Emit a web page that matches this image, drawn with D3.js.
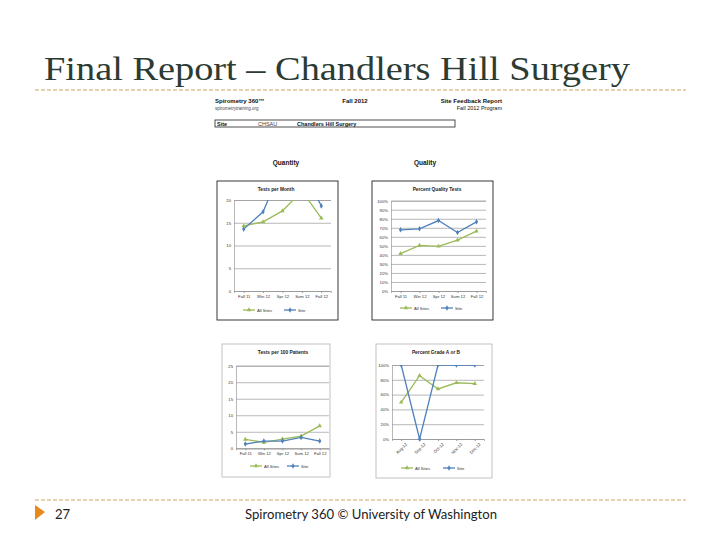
<!DOCTYPE html>
<html>
<head>
<meta charset="utf-8">
<script src="https://cdn.jsdelivr.net/npm/d3@7"></script>
<style>
  body { margin: 0; background: #fff; }
  svg { display: block; }
</style>
</head>
<body>
<script>
// chart values
var periods = ["Fall 11", "Win 12", "Spr 12", "Sum 12", "Fall 12"];
var months = ["Aug-12", "Sep-12", "Oct-12", "Nov-12", "Dec-12"];
var seriesNames = ["All Sites", "Site"];

var qtyTicks = [0, 5, 10, 15, 20];
var qtyAll = [14.3, 15.2, 17.6, 22.0, 16.0];
var qtySite = [13.6, 17.4, 27.5, 27.0, 18.7];

var qualTicks = [0, 10, 20, 30, 40, 50, 60, 70, 80, 90, 100];
var qualAll = [41.4, 50.5, 49.5, 56.4, 66.3];
var qualSite = [67.8, 68.9, 78.0, 64.8, 76.6];

var blTicks = [0, 5, 10, 15, 20, 25];
var blAll = [2.7, 1.8, 2.8, 3.7, 6.8];
var blSite = [1.3, 2.2, 2.2, 3.3, 2.2];

var brTicks = [0, 20, 40, 60, 80, 100];
var brAll = [49.6, 85.5, 67.6, 76.0, 74.7];
var brSite = [100, 0, 100, 100, 100];

var W = 720, H = 540;
var GREEN = "#9bbb59", BLUE = "#4f81bd";

var svg = d3.select("body").append("svg")
  .attr("width", W).attr("height", H);

// slide title
svg.append("text")
  .attr("x", 44).attr("y", 80)
  .attr("font-family", "Liberation Serif, serif")
  .attr("font-size", 33)
  .attr("fill", "#2c3b33")
  .attr("textLength", 586)
  .attr("lengthAdjust", "spacingAndGlyphs")
  .text("Final Report \u2013 Chandlers Hill Surgery");

// dashed rules
[90, 500].forEach(function(yy){
  svg.append("line")
    .attr("x1", 35).attr("x2", 686).attr("y1", yy).attr("y2", yy)
    .attr("stroke", "#c9a45c").attr("stroke-width", 1)
    .attr("stroke-dasharray", "4,2");
});

// footer
svg.append("path")
  .attr("d", "M35,505 L45,512 L35,520 Z")
  .attr("fill", "#e8891c");
svg.append("text")
  .attr("x", 55).attr("y", 519)
  .attr("font-family", "Lato, sans-serif").attr("font-size", 13)
  .attr("fill", "#222").text("27");
svg.append("text")
  .attr("x", 371).attr("y", 519).attr("text-anchor", "middle")
  .attr("font-family", "Lato, sans-serif").attr("font-size", 13)
  .attr("fill", "#222")
  .attr("textLength", 252).attr("lengthAdjust", "spacingAndGlyphs")
  .text("Spirometry 360 \u00a9 University of Washington");

// report header (the embedded page)
var rep = svg.append("g").attr("font-family", "Liberation Sans, Arial, sans-serif").attr("fill", "#111");
rep.append("text").attr("x", 215).attr("y", 103).attr("font-size", 6).attr("font-weight", "bold")
  .text("Spirometry 360\u2122");
rep.append("text").attr("x", 215).attr("y", 110).attr("font-size", 4.5).attr("fill", "#444")
  .text("spirometrytraining.org");
rep.append("text").attr("x", 355).attr("y", 103).attr("font-size", 6).attr("font-weight", "bold")
  .attr("text-anchor", "middle").text("Fall 2012");
rep.append("text").attr("x", 502).attr("y", 103).attr("font-size", 6).attr("font-weight", "bold")
  .attr("text-anchor", "end").text("Site Feedback Report");
rep.append("text").attr("x", 502).attr("y", 110).attr("font-size", 5.5)
  .attr("text-anchor", "end").text("Fall 2012 Program");
rep.append("rect").attr("x", 215).attr("y", 120).attr("width", 240).attr("height", 7)
  .attr("fill", "none").attr("stroke", "#222").attr("stroke-width", 0.8);
rep.append("text").attr("x", 217).attr("y", 125.5).attr("font-size", 5.5).attr("font-weight", "bold").text("Site");
rep.append("text").attr("x", 258).attr("y", 125.5).attr("font-size", 5.5).attr("fill", "#444").text("CHSAU");
rep.append("text").attr("x", 297).attr("y", 125.5).attr("font-size", 5.5).attr("font-weight", "bold")
  .text("Chandlers Hill Surgery");
rep.append("text").attr("x", 286).attr("y", 165).attr("font-size", 6.5).attr("font-weight", "bold")
  .attr("text-anchor", "middle").text("Quantity");
rep.append("text").attr("x", 425).attr("y", 165).attr("font-size", 6.5).attr("font-weight", "bold")
  .attr("text-anchor", "middle").text("Quality");

var clipN = 0;
function drawChart(cfg){
  var g = svg.append("g").attr("font-family", "Liberation Sans, Arial, sans-serif");
  g.append("rect")
    .attr("x", cfg.box.x).attr("y", cfg.box.y)
    .attr("width", cfg.box.w).attr("height", cfg.box.h)
    .attr("fill", "#fff").attr("stroke", cfg.border).attr("stroke-width", 0.9);

  g.append("text")
    .attr("x", cfg.titleX).attr("y", cfg.box.y + 10)
    .attr("text-anchor", "middle").attr("font-size", 4.8).attr("font-weight", "bold")
    .attr("fill", "#222").text(cfg.title);

  var x = d3.scalePoint().domain(cfg.cats).range([cfg.px0, cfg.px1]).padding(0.5);
  var y = d3.scaleLinear().domain([cfg.ticks[0], cfg.ticks[cfg.ticks.length - 1]]).range([cfg.py1, cfg.py0]);

  var yAx = g.append("g")
    .attr("transform", "translate(" + cfg.px0 + ",0)")
    .call(d3.axisLeft(y).tickValues(cfg.ticks).tickSize(-(cfg.px1 - cfg.px0)).tickPadding(3)
      .tickFormat(cfg.fmt));
  yAx.selectAll(".tick line").attr("stroke", "#9a9a9a").attr("stroke-width", 0.7);
  yAx.select(".domain").attr("stroke", "#9a9a9a").attr("stroke-width", 0.7);
  yAx.selectAll("text").attr("font-size", 4.2).attr("fill", "#333");

  var xAx = g.append("g")
    .attr("transform", "translate(0," + cfg.py1 + ")")
    .call(d3.axisBottom(x).tickSize(2).tickPadding(2));
  xAx.select(".domain").attr("stroke", "#9a9a9a").attr("stroke-width", 0.7);
  xAx.selectAll(".tick line").attr("stroke", "#9a9a9a");
  xAx.selectAll("text").attr("font-size", 4.2).attr("fill", "#333");
  if (cfg.rotate) {
    xAx.selectAll("text")
      .attr("text-anchor", "end").attr("dy", "0.3em")
      .attr("transform", "translate(2,2) rotate(-45)");
  }

  var id = "clip" + (clipN++);
  g.append("clipPath").attr("id", id).append("rect")
    .attr("x", cfg.px0 - 4).attr("y", cfg.py0)
    .attr("width", cfg.px1 - cfg.px0 + 8).attr("height", cfg.py1 - cfg.py0 + 4);
  var plot = g.append("g").attr("clip-path", "url(#" + id + ")");

  var line = d3.line().x(function(d, i){ return x(cfg.cats[i]); }).y(function(d){ return y(d); });
  var series = [
    { vals: cfg.all, color: GREEN, sym: d3.symbolTriangle },
    { vals: cfg.site, color: BLUE, sym: d3.symbolDiamond }
  ];
  series.forEach(function(s){
    plot.append("path").datum(s.vals)
      .attr("d", line).attr("fill", "none")
      .attr("stroke", s.color).attr("stroke-width", 1.3);
    plot.selectAll(null).data(s.vals).enter().append("path")
      .attr("d", d3.symbol().type(s.sym).size(9))
      .attr("transform", function(d, i){ return "translate(" + x(cfg.cats[i]) + "," + y(d) + ")"; })
      .attr("fill", s.color);
  });

  // legend
  var lg = g.append("g");
  series.forEach(function(s, i){
    var lx = cfg.legX[i];
    lg.append("line").attr("x1", lx).attr("x2", lx + 12)
      .attr("y1", cfg.legY).attr("y2", cfg.legY)
      .attr("stroke", s.color).attr("stroke-width", 1.3);
    lg.append("path").attr("d", d3.symbol().type(s.sym).size(9))
      .attr("transform", "translate(" + (lx + 6) + "," + cfg.legY + ")")
      .attr("fill", s.color);
    lg.append("text").attr("x", lx + 14).attr("y", cfg.legY + 1.5)
      .attr("font-size", 4.2).attr("fill", "#333").text(seriesNames[i]);
  });
}

var pct = function(d){ return d + "%"; };
var num = function(d){ return d; };

drawChart({
  box: {x: 217, y: 181, w: 121, h: 139}, border: "#222",
  title: "Tests per Month", titleX: 276,
  px0: 234, px1: 331, py0: 200, py1: 291,
  cats: periods, ticks: qtyTicks, fmt: num,
  all: qtyAll, site: qtySite,
  legX: [243, 284], legY: 310
});
drawChart({
  box: {x: 372, y: 181, w: 121, h: 139}, border: "#222",
  title: "Percent Quality Tests", titleX: 437,
  px0: 391, px1: 486, py0: 200.7, py1: 291,
  cats: periods, ticks: qualTicks, fmt: pct,
  all: qualAll, site: qualSite,
  legX: [400, 441], legY: 308
});
drawChart({
  box: {x: 222, y: 344, w: 108, h: 133}, border: "#bbbbbb",
  title: "Tests per 100 Patients", titleX: 283,
  px0: 236, px1: 329, py0: 365.7, py1: 448.3,
  cats: periods, ticks: blTicks, fmt: num,
  all: blAll, site: blSite,
  legX: [250, 287], legY: 466
});
drawChart({
  box: {x: 376, y: 344, w: 116, h: 134}, border: "#bbbbbb",
  title: "Percent Grade A or B", titleX: 436,
  px0: 392, px1: 484, py0: 365, py1: 439,
  cats: months, ticks: brTicks, fmt: pct, rotate: true,
  all: brAll, site: brSite,
  legX: [401, 443], legY: 468
});
</script>
</body>
</html>
